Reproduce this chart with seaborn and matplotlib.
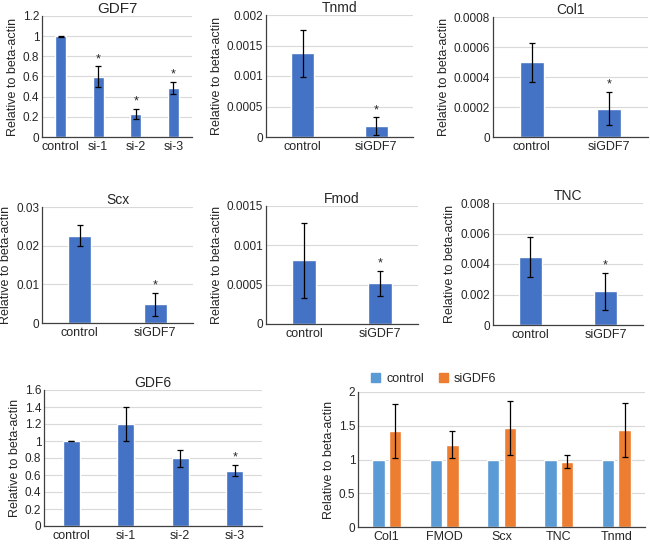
import numpy as np
import pandas as pd
import seaborn as sns
import matplotlib.pyplot as plt
from matplotlib.ticker import MultipleLocator, FuncFormatter
from matplotlib.patches import Patch

# data
gdf7_groups = ["control", "si-1", "si-2", "si-3"]
gdf7_vals = [1.0, 0.60, 0.23, 0.49]
gdf7_err = [0.005, 0.10, 0.05, 0.06]
gdf7_star = [False, True, True, True]

two_groups = ["control", "siGDF7"]
tnmd_vals = [0.00137, 0.00018]
tnmd_err = [0.00039, 0.00014]
col1_vals = [0.00050, 0.00019]
col1_err = [0.00013, 0.00011]
scx_vals = [0.0226, 0.0048]
scx_err = [0.0028, 0.0030]
fmod_vals = [0.00081, 0.00052]
fmod_err = [0.00048, 0.00016]
tnc_vals = [0.00445, 0.0022]
tnc_err = [0.0013, 0.0012]
two_star = [False, True]

gdf6_groups = ["control", "si-1", "si-2", "si-3"]
gdf6_vals = [1.0, 1.2, 0.80, 0.65]
gdf6_err = [0.005, 0.20, 0.10, 0.065]
gdf6_star = [False, False, False, True]

genes = ["Col1", "FMOD", "Scx", "TNC", "Tnmd"]
ctrl_vals = [1, 1, 1, 1, 1]
sigdf6_vals = [1.42, 1.22, 1.46, 0.97, 1.44]
sigdf6_err = [0.40, 0.20, 0.40, 0.10, 0.40]

BLUE = "#4472C4"
LBLUE = "#5B9BD5"
ORANGE = "#ED7D31"

sns.set_style("white")
plt.rcParams["font.family"] = ["Liberation Sans", "DejaVu Sans"]

W, H = 650, 555
fig = plt.figure(figsize=(6.5, 5.55), dpi=100)


def px_axes(x0, x1, top, bottom):
    return fig.add_axes([x0 / W, 1 - bottom / H, (x1 - x0) / W, (bottom - top) / H])


def style(ax, ymax, step, n):
    ax.set_xlim(-0.5, n - 0.5)
    ax.set_ylim(0, ymax)
    ax.yaxis.set_major_locator(MultipleLocator(step))
    ax.yaxis.set_major_formatter(FuncFormatter(lambda v, p: f"{v:g}"))
    ax.grid(axis="y", color="#D9D9D9", linewidth=0.8)
    ax.set_axisbelow(True)
    for s in ["top", "right"]:
        ax.spines[s].set_visible(False)
    for s in ["left", "bottom"]:
        ax.spines[s].set_color("#404040")
        ax.spines[s].set_linewidth(0.9)
    ax.tick_params(length=0, labelsize=9, pad=3)
    ax.tick_params(axis="y", labelsize=8.5, pad=2)
    ax.set_xlabel("")
    ax.set_ylabel("Relative to beta-actin", fontsize=9, labelpad=3)


def simple_panel(rect, title, groups, vals, errs, stars, ymax, step, width, tsize=10):
    ax = px_axes(*rect)
    df = pd.DataFrame({"group": groups, "value": vals})
    sns.barplot(data=df, x="group", y="value", color=BLUE, saturation=1,
                width=width, errorbar=None, ax=ax)
    xs = np.arange(len(groups))
    ax.errorbar(xs, vals, yerr=errs, fmt="none", ecolor="black",
                elinewidth=0.9, capsize=2.5, capthick=0.9)
    for x, v, e, s in zip(xs, vals, errs, stars):
        if s:
            ax.annotate("*", (x, v + e), xytext=(0, 1), textcoords="offset points",
                        ha="center", va="bottom", fontsize=9)
    style(ax, ymax, step, len(groups))
    ax.set_title(title, fontsize=tsize, pad=2)
    return ax


simple_panel((42, 192, 16, 137), "GDF7", gdf7_groups, gdf7_vals, gdf7_err,
             gdf7_star, 1.2, 0.2, 0.3, tsize=11)
simple_panel((266, 413, 15, 137), "Tnmd", two_groups, tnmd_vals, tnmd_err,
             two_star, 0.002, 0.0005, 0.31)
simple_panel((493, 648, 17, 137), "Col1", two_groups, col1_vals, col1_err,
             two_star, 0.0008, 0.0002, 0.31)
simple_panel((42, 193, 207, 323), "Scx", two_groups, scx_vals, scx_err,
             two_star, 0.03, 0.01, 0.31)
simple_panel((266, 418, 206, 324), "Fmod", two_groups, fmod_vals, fmod_err,
             two_star, 0.0015, 0.0005, 0.31)
simple_panel((493, 643, 203, 325), "TNC", two_groups, tnc_vals, tnc_err,
             two_star, 0.008, 0.002, 0.31)
simple_panel((44, 262, 390, 526), "GDF6", gdf6_groups, gdf6_vals, gdf6_err,
             gdf6_star, 1.6, 0.2, 0.31)

# grouped panel
ax = px_axes(358, 645, 392, 527)
df = pd.DataFrame({
    "gene": genes * 2,
    "value": ctrl_vals + sigdf6_vals,
    "cond": ["control"] * len(genes) + ["siGDF6"] * len(genes),
})
sns.barplot(data=df, x="gene", y="value", hue="cond",
            palette={"control": LBLUE, "siGDF6": ORANGE}, saturation=1,
            width=0.58, gap=0.25, errorbar=None, legend=False, ax=ax)
orange_bars = ax.containers[1]
ox = [b.get_x() + b.get_width() / 2 for b in orange_bars]
ax.errorbar(ox, sigdf6_vals, yerr=sigdf6_err, fmt="none", ecolor="black",
            elinewidth=0.9, capsize=2.5, capthick=0.9)
style(ax, 2, 0.5, len(genes))
handles = [Patch(color=LBLUE, label="control"), Patch(color=ORANGE, label="siGDF6")]
ax.legend(handles=handles, loc="lower left", bbox_to_anchor=(0.02, 1.0), ncol=2,
          frameon=False, fontsize=9, handlelength=0.7, handleheight=0.7,
          handletextpad=0.5, columnspacing=1.2, borderaxespad=0.2)

fig.savefig("out.png", dpi=100)
